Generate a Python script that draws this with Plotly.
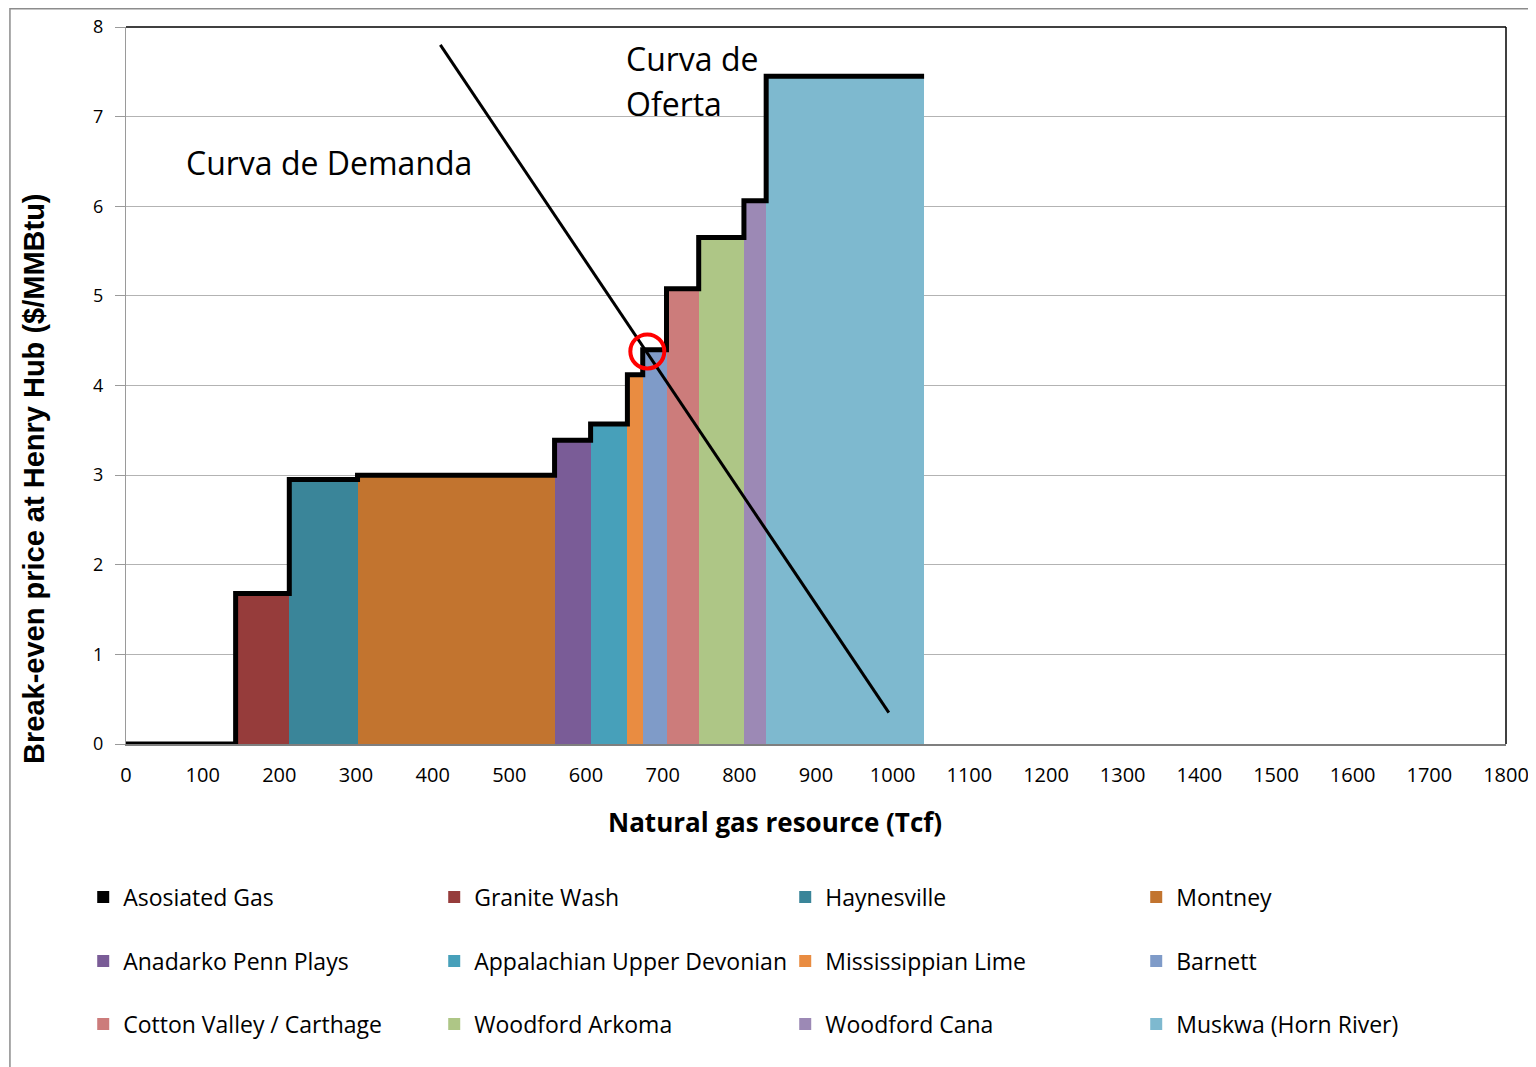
import plotly.graph_objects as go
import numpy as np

# ---- data ----
plays = ["Asosiated Gas", "Granite Wash", "Haynesville", "Montney",
         "Anadarko Penn Plays", "Appalachian Upper Devonian", "Mississippian Lime", "Barnett",
         "Cotton Valley / Carthage", "Woodford Arkoma", "Woodford Cana", "Muskwa (Horn River)"]
resource_tcf = [143, 70, 89, 257, 47, 48, 20, 31, 42, 59, 29, 206]
breakeven_price = [0.0, 1.68, 2.95, 3.00, 3.39, 3.57, 4.12, 4.40, 5.08, 5.65, 6.06, 7.45]
colors = ["#000000", "#963C3B", "#3A8599", "#C2742F",
          "#7A5C97", "#47A0BA", "#E98C41", "#7F9BC8",
          "#CC7C7B", "#AEC686", "#9C89B5", "#7EB9CF"]

demand_x = [410, 995]
demand_y = [7.80, 0.35]
equilibrium_x = [680]
equilibrium_y = [4.38]

x_ticks = list(range(0, 1801, 100))
y_ticks = list(range(0, 9))

# ---- derived positions ----
left_edges = np.concatenate([[0], np.cumsum(resource_tcf)[:-1]])
right_end = float(np.sum(resource_tcf))

FONT = "Open Sans, Liberation Sans, sans-serif"
legend_rows = ["legend", "legend2", "legend3"]

fig = go.Figure()

for i, (name, w, p, c) in enumerate(zip(plays, resource_tcf, breakeven_price, colors)):
    fig.add_trace(go.Bar(
        x=[left_edges[i]], y=[p], width=[w], offset=0,
        name=name, marker=dict(color=c, line=dict(width=0)),
        legend=legend_rows[i // 4], hoverinfo="name+y",
    ))

# supply step curve
fig.add_trace(go.Scatter(
    x=list(left_edges) + [right_end], y=breakeven_price + [breakeven_price[-1]],
    mode="lines", line=dict(shape="hv", color="black", width=5),
    showlegend=False, hoverinfo="skip",
))

# demand curve
fig.add_trace(go.Scatter(
    x=demand_x, y=demand_y, mode="lines",
    line=dict(color="black", width=3), showlegend=False, hoverinfo="skip",
))

# equilibrium marker
fig.add_trace(go.Scatter(
    x=equilibrium_x, y=equilibrium_y, mode="markers",
    marker=dict(symbol="circle-open", size=34, color="#FF0000", line=dict(width=4)),
    showlegend=False, hoverinfo="skip",
))

legend_common = dict(orientation="h", entrywidth=306, entrywidthmode="pixels",
                     x=-0.031, xanchor="left", yanchor="middle",
                     font=dict(family=FONT, size=23, color="black"),
                     bgcolor="rgba(0,0,0,0)", itemwidth=30, traceorder="normal")

fig.update_layout(
    width=1528, height=1059,
    margin=dict(l=118, r=30, t=19, b=323, autoexpand=False),
    paper_bgcolor="white", plot_bgcolor="white",
    barmode="overlay", bargap=0,
    font=dict(family=FONT, color="black"),
    legend=dict(y=-0.2134, **legend_common),
    legend2=dict(y=-0.3027, **legend_common),
    legend3=dict(y=-0.3905, **legend_common),
    xaxis=dict(range=[0, 1800], tickvals=x_ticks, ticktext=[str(t) for t in x_ticks],
               showgrid=False, zeroline=False, showline=True, linecolor="#7F7F7F", linewidth=1.5,
               ticks="", ticklabelstandoff=12,
               tickfont=dict(family=FONT, size=20, color="black")),
    yaxis=dict(range=[0, 8], tickvals=y_ticks, ticktext=[str(t) for t in y_ticks],
               showgrid=True, gridcolor="#B3B3B3", gridwidth=1, zeroline=False,
               showline=True, linecolor="#9A9A9A", linewidth=1,
               ticks="outside", ticklen=10, tickcolor="#9A9A9A", ticklabelstandoff=8,
               tickfont=dict(family=FONT, size=18, color="black")),
    shapes=[
        dict(type="rect", xref="paper", yref="paper", x0=-0.0841, y0=-0.47, x1=1.04, y1=1.0255,
             line=dict(color="#8C8C8C", width=1.5), layer="below"),
        dict(type="line", xref="paper", yref="paper", x0=0, y0=1, x1=1, y1=1,
             line=dict(color="black", width=1.5)),
        dict(type="line", xref="paper", yref="paper", x0=1, y0=0, x1=1, y1=1,
             line=dict(color="black", width=1.5)),
    ],
    annotations=[
        dict(x=-0.0667, y=0.3696, xref="paper", yref="paper", textangle=-90,
             text="<b>Break-even price at Henry Hub ($/MMBtu)</b>", showarrow=False,
             xanchor="center", yanchor="middle",
             font=dict(family="Liberation Sans, sans-serif", size=29, color="black")),
        dict(x=0.4703, y=-0.1088, xref="paper", yref="paper",
             text="<b>Natural gas resource (Tcf)</b>", showarrow=False,
             xanchor="center", yanchor="middle", font=dict(family=FONT, size=26, color="black")),
        dict(x=76, y=6.49, xref="x", yref="y", text="Curva de Demanda", showarrow=False,
             xanchor="left", yanchor="middle", font=dict(family=FONT, size=32, color="black")),
        dict(x=650, y=7.654, xref="x", yref="y", text="Curva de", showarrow=False,
             xanchor="left", yanchor="middle", font=dict(family=FONT, size=32, color="black")),
        dict(x=650, y=7.152, xref="x", yref="y", text="Oferta", showarrow=False,
             xanchor="left", yanchor="middle", font=dict(family=FONT, size=32, color="black")),
    ],
)

fig.write_html("out.html")
